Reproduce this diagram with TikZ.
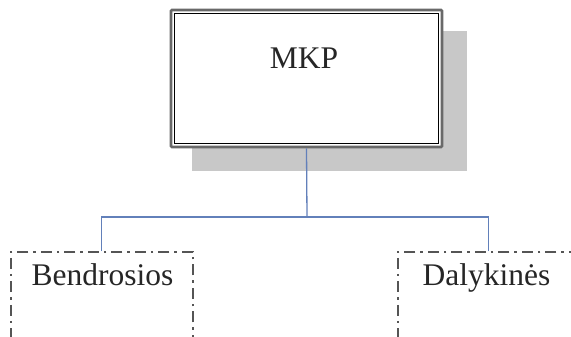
\documentclass[tikz,border=0pt]{standalone}
\usepackage{fontspec}
\setmainfont{Liberation Serif}
\definecolor{linkblue}{RGB}{98,128,186}
\definecolor{shadowgray}{RGB}{200,200,200}
\definecolor{framegray}{RGB}{105,105,105}
\definecolor{dashgray}{RGB}{85,85,85}
\begin{document}
\begin{tikzpicture}[x=1pt,y=-1pt,
  mainbox/.style={draw=framegray, line width=2.6pt, fill=white, rounded corners=1pt,
    minimum width=271pt, minimum height=137pt, inner sep=0pt},
  subbox/.style={draw=dashgray, line width=1.6pt,
    dash pattern=on 11pt off 5pt on 2.5pt off 5pt,
    minimum height=100pt, inner sep=0pt, anchor=north west},
  conn/.style={draw=linkblue, line width=1.3pt},
  caption/.style={font=\fontsize{31.5}{36}\selectfont, anchor=base, inner sep=0pt, text=black!85}]
  \useasboundingbox (0,0) rectangle (571,337);
  \begin{scope}
    \clip (0,0) rectangle (571,337);
    % drop shadow behind the top box
    \fill[shadowgray] (192,31) rectangle (467,171);
    % top box with double frame
    \node[mainbox] (mkp) at (306.5,78.5) {};
    \draw[black, line width=1.3pt]
      ([shift={(4.5pt,-4.5pt)}]mkp.north west) rectangle ([shift={(-4.5pt,4.5pt)}]mkp.south east);
    \node[caption] (mkptext) at (304,69) {MKP};
    % lower dash-dotted boxes, running on past the lower edge
    \node[subbox, minimum width=182pt] (gen) at (10,251) {};
    \node[subbox, minimum width=182pt] (spec) at (397,251) {};
    \node[caption] (gentext) at (102.5,285) {Bendrosios};
    \node[caption] (spectext) at (486.5,285) {Dalykinės};
    % tree connectors
    \coordinate (bus) at (307,217);
    \draw[conn] (mkp.south) -- (bus);
    \draw[conn] (gen.north) |- (bus);
    \draw[conn] (spec.north) |- (bus);
  \end{scope}
\end{tikzpicture}
\end{document}
